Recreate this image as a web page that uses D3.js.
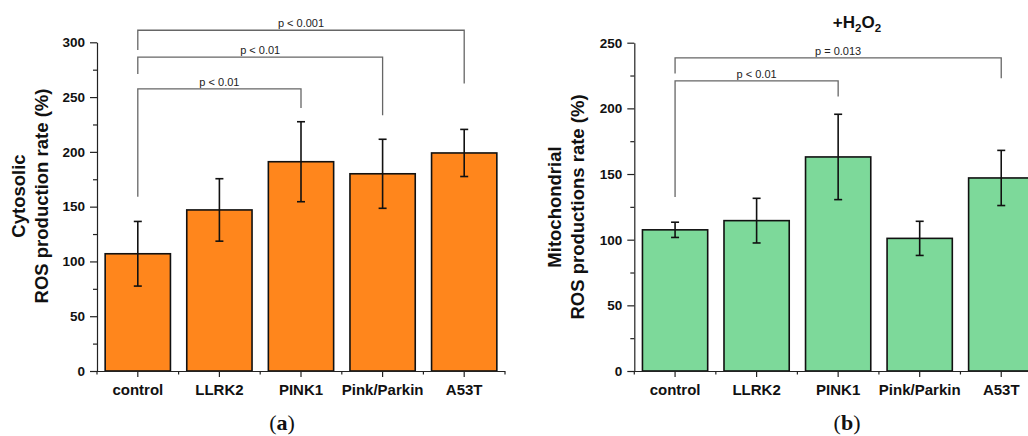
<!DOCTYPE html>
<html>
<head>
<meta charset="utf-8">
<script src="https://cdn.jsdelivr.net/npm/d3@7"></script>
<style>
  html, body { margin: 0; padding: 0; background: #fff; }
  svg { display: block; font-family: "Liberation Sans", Arial, sans-serif; }
</style>
</head>
<body>
<svg id="chart" width="1028" height="436"></svg>
<script>
// ---------- data ----------
const categories = ["control", "LLRK2", "PINK1", "Pink/Parkin", "A53T"];

const cytosolicMean = [107, 147, 191, 180, 199];
const cytosolicErr  = [29.5, 28.5, 36.5, 31.5, 21.5];
const cytosolicTicks = [0, 50, 100, 150, 200, 250, 300];
const cytosolicMinor = [25, 75, 125, 175, 225, 275];

const mitoMean = [107.5, 114.5, 163, 101, 147];
const mitoErr  = [5.8, 17, 32.5, 13, 21];
const mitoTicks = [0, 50, 100, 150, 200, 250];
const mitoMinor = [25, 75, 125, 175, 225];

// significance brackets: [from, to, level, leftLegEnd, rightLegEnd, label]
const cytosolicBrackets = [
  ["control", "PINK1", 257.5, 159, 240, "p < 0.01"],
  ["control", "Pink/Parkin", 286.5, 271, 233.5, "p < 0.01"],
  ["control", "A53T", 311, 293, 262.5, "p < 0.001"]
];
const mitoBrackets = [
  ["control", "PINK1", 221, 132.5, 209, "p < 0.01"],
  ["control", "A53T", 238.5, 226.5, 223, "p = 0.013"]
];

// ---------- drawing ----------
const svg = d3.select("#chart");

function panel(opt) {
  const g = svg.append("g");
  const x = d3.scaleBand().domain(categories).range([opt.x0, opt.x1])
              .paddingInner(0.2).paddingOuter(0.1);
  const y = d3.scaleLinear().domain([0, opt.ymax]).range([opt.yb, opt.yt]);
  const step = x.step();

  // bars
  g.selectAll("rect.bar").data(opt.mean).join("rect")
    .attr("x", (d, i) => x(categories[i]))
    .attr("y", d => y(d))
    .attr("width", x.bandwidth())
    .attr("height", d => y(0) - y(d))
    .attr("fill", opt.color)
    .attr("stroke", "#111")
    .attr("stroke-width", 1.6);

  // error bars
  const cx = i => x(categories[i]) + x.bandwidth() / 2;
  const eb = g.append("g").attr("stroke", "#111").attr("stroke-width", 1.6);
  opt.mean.forEach((m, i) => {
    const e = opt.err[i];
    eb.append("line").attr("x1", cx(i)).attr("x2", cx(i)).attr("y1", y(m + e)).attr("y2", y(m - e));
    eb.append("line").attr("x1", cx(i) - 4).attr("x2", cx(i) + 4).attr("y1", y(m + e)).attr("y2", y(m + e));
    eb.append("line").attr("x1", cx(i) - 4).attr("x2", cx(i) + 4).attr("y1", y(m - e)).attr("y2", y(m - e));
  });

  // y axis
  const ya = g.append("g").attr("transform", `translate(${opt.x0},0)`)
    .call(d3.axisLeft(y).tickValues(opt.ticks).tickSize(7).tickSizeOuter(0).tickPadding(5));
  const yMinor = g.append("g").attr("transform", `translate(${opt.x0},0)`)
    .call(d3.axisLeft(y).tickValues(opt.minor).tickSize(4).tickFormat(""));
  yMinor.select(".domain").remove();
  [ya, yMinor].forEach(a => {
    a.selectAll("line").attr("stroke", "#222").attr("stroke-width", 1.2);
    a.selectAll(".domain").attr("stroke", "#222").attr("stroke-width", 1.2);
  });
  ya.selectAll("text").attr("font-size", 13.5).attr("font-weight", "bold")
    .attr("fill", "#111").attr("font-family", "Liberation Sans, Arial, sans-serif");

  // x axis
  const xa = g.append("g").attr("transform", `translate(0,${opt.yb})`)
    .call(d3.axisBottom(x).tickSize(6).tickSizeOuter(0).tickPadding(7));
  xa.selectAll("line").attr("stroke", "#222").attr("stroke-width", 1.2);
  xa.select(".domain").attr("stroke", "#222").attr("stroke-width", 1.2)
    .attr("d", `M${opt.x0},0.5H${opt.x1}`);
  xa.selectAll("text").attr("font-size", 15).attr("font-weight", "bold")
    .attr("fill", "#111").attr("font-family", "Liberation Sans, Arial, sans-serif");
  const bounds = d3.range(categories.length + 1).map(i => opt.x0 + i * step);
  g.append("g").selectAll("line").data(bounds).join("line")
    .attr("x1", d => d).attr("x2", d => d)
    .attr("y1", opt.yb).attr("y2", opt.yb + 3.5)
    .attr("stroke", "#222").attr("stroke-width", 1.2);

  // brackets
  const bg = g.append("g");
  opt.brackets.forEach(b => {
    const xl = x(b[0]) + x.bandwidth() / 2, xr = x(b[1]) + x.bandwidth() / 2;
    bg.append("path")
      .attr("d", `M${xl},${y(b[3])}V${y(b[2])}H${xr}V${y(b[4])}`)
      .attr("fill", "none").attr("stroke", "#666").attr("stroke-width", 1.3);
    bg.append("text").attr("x", (xl + xr) / 2).attr("y", y(b[2]) - 3)
      .attr("text-anchor", "middle").attr("font-size", 11).attr("fill", "#222")
      .text(b[5]);
  });

  // y label
  const yl = g.append("text").attr("transform", `translate(${opt.labX},${opt.labY}) rotate(-90)`)
    .attr("text-anchor", "middle").attr("font-size", 18.5).attr("font-weight", "bold").attr("fill", "#111");
  yl.append("tspan").attr("x", 0).attr("y", 0).text(opt.lab1);
  yl.append("tspan").attr("x", 0).attr("y", opt.labGap).text(opt.lab2);

  // panel letter
  const pl = g.append("text").attr("x", opt.letterX).attr("y", 430)
    .attr("text-anchor", "middle").attr("font-size", 22)
    .attr("font-family", "Liberation Serif, DejaVu Serif, serif").attr("fill", "#111");
  pl.append("tspan").text("(");
  pl.append("tspan").attr("font-weight", "bold").text(opt.letter);
  pl.append("tspan").text(")");
}

panel({
  x0: 97, x1: 505, yb: 371, yt: 42.3, ymax: 300,
  mean: cytosolicMean, err: cytosolicErr, ticks: cytosolicTicks, minor: cytosolicMinor,
  color: "#FF861C", brackets: cytosolicBrackets,
  lab1: "Cytosolic", lab2: "ROS production rate (%)", labX: 25, labY: 196, labGap: 23,
  letter: "a", letterX: 282
});

panel({
  x0: 634.3, x1: 1042, yb: 371, yt: 42.7, ymax: 250,
  mean: mitoMean, err: mitoErr, ticks: mitoTicks, minor: mitoMinor,
  color: "#7DD99A", brackets: mitoBrackets,
  lab1: "Mitochondrial", lab2: "ROS productions rate (%)", labX: 561, labY: 207, labGap: 22.5,
  letter: "b", letterX: 847
});

// title of panel b
const t = svg.append("text").attr("x", 857).attr("y", 28).attr("text-anchor", "middle")
  .attr("font-size", 17).attr("font-weight", "bold").attr("fill", "#111");
t.append("tspan").text("+H");
t.append("tspan").attr("font-size", 11.5).attr("dy", 4).text("2");
t.append("tspan").attr("dy", -4).text("O");
t.append("tspan").attr("font-size", 11.5).attr("dy", 4).text("2");
</script>
</body>
</html>
